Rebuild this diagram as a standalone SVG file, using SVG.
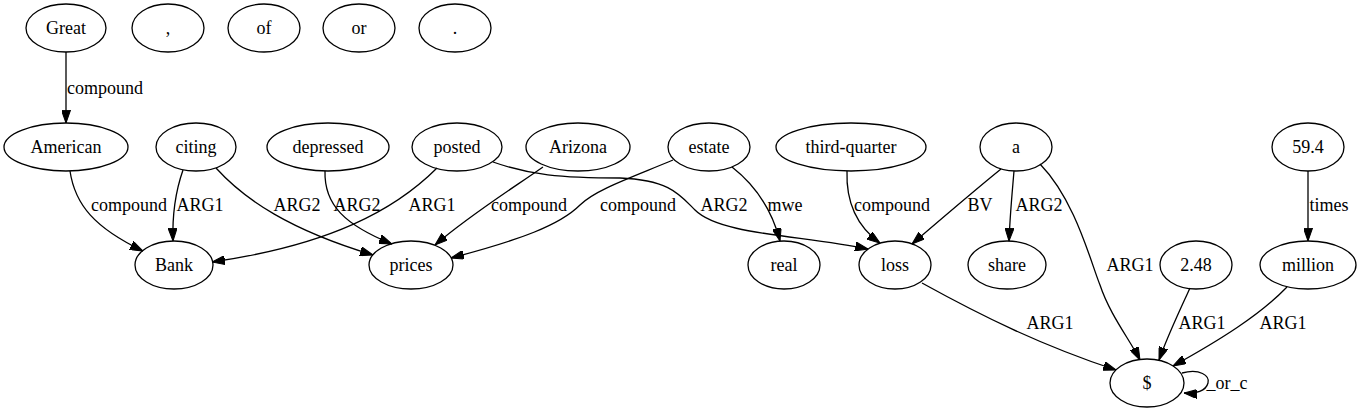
<svg xmlns="http://www.w3.org/2000/svg" width="1363" height="411" viewBox="0 0 1363 411">
<style>
  ellipse { fill: none; stroke: #000; stroke-width: 1.3; }
  text { font-family: "Liberation Serif", "Times New Roman", serif; font-size: 18px; fill: #000; text-anchor: middle; }
  .e path { fill: none; stroke: #000; stroke-width: 1.3; marker-end: url(#arr); }
</style>
<defs>
  <marker id="arr" viewBox="0 0 10 7" refX="10" refY="3.5" markerWidth="13" markerHeight="9" markerUnits="userSpaceOnUse" orient="auto">
    <path d="M0,0 L10,3.5 L0,7 z" fill="#000" stroke="#000" stroke-width="0.8"/>
  </marker>
</defs>
<rect width="1363" height="411" fill="#fff"/>

<g id="n_great"><ellipse cx="66" cy="28" rx="40" ry="24"/><text x="66" y="34">Great</text></g>
<g id="n_comma"><ellipse cx="168" cy="28" rx="36" ry="24"/><text x="168" y="34">,</text></g>
<g id="n_of"><ellipse cx="264" cy="28" rx="36" ry="24"/><text x="264" y="34">of</text></g>
<g id="n_or"><ellipse cx="359" cy="28" rx="36" ry="24"/><text x="359" y="34">or</text></g>
<g id="n_dot"><ellipse cx="455" cy="28" rx="36" ry="24"/><text x="455" y="34">.</text></g>

<g id="n_american"><ellipse cx="66" cy="147" rx="62" ry="24"/><text x="66" y="153">American</text></g>
<g id="n_citing"><ellipse cx="196" cy="147" rx="40" ry="24"/><text x="196" y="153">citing</text></g>
<g id="n_depressed"><ellipse cx="328" cy="147" rx="61" ry="24"/><text x="328" y="153">depressed</text></g>
<g id="n_posted"><ellipse cx="457" cy="147" rx="45" ry="24"/><text x="457" y="153">posted</text></g>
<g id="n_arizona"><ellipse cx="578" cy="147" rx="52" ry="24"/><text x="578" y="153">Arizona</text></g>
<g id="n_estate"><ellipse cx="709" cy="147" rx="41" ry="24"/><text x="709" y="153">estate</text></g>
<g id="n_thirdquarter"><ellipse cx="851" cy="147" rx="75" ry="24"/><text x="851" y="153">third-quarter</text></g>
<g id="n_a"><ellipse cx="1016" cy="147" rx="36" ry="24"/><text x="1016" y="153">a</text></g>
<g id="n_594"><ellipse cx="1308" cy="147" rx="36" ry="24"/><text x="1308" y="153">59.4</text></g>

<g id="n_bank"><ellipse cx="174" cy="265" rx="39" ry="24"/><text x="174" y="271">Bank</text></g>
<g id="n_prices"><ellipse cx="411" cy="265" rx="42" ry="24"/><text x="411" y="271">prices</text></g>
<g id="n_real"><ellipse cx="784" cy="265" rx="36" ry="24"/><text x="784" y="271">real</text></g>
<g id="n_loss"><ellipse cx="895" cy="265" rx="36" ry="24"/><text x="895" y="271">loss</text></g>
<g id="n_share"><ellipse cx="1007" cy="265" rx="39" ry="24"/><text x="1007" y="271">share</text></g>
<g id="n_248"><ellipse cx="1196" cy="265" rx="36" ry="24"/><text x="1196" y="271">2.48</text></g>
<g id="n_million"><ellipse cx="1308" cy="265" rx="48" ry="24"/><text x="1308" y="271">million</text></g>

<g id="n_dollar"><ellipse cx="1147" cy="383" rx="37" ry="24"/><text x="1147" y="389">$</text></g>

<g id="edges" class="e">
  <path d="M66,52 L66,123"/>
  <text x="105" y="94">compound</text>

  <path d="M70,171 C75,205 95,228 143,251"/>
  <text x="129" y="211">compound</text>

  <path d="M183,170 C176,190 172,210 173,241"/>
  <text x="200" y="211">ARG1</text>

  <path d="M216,168 C245,200 290,230 373,255"/>
  <text x="297" y="211">ARG2</text>

  <path d="M325,171 C324,205 345,225 392,244"/>
  <text x="357" y="211">ARG2</text>

  <path d="M437,168 C395,210 330,245 212,262"/>
  <text x="432" y="211">ARG1</text>

  <path d="M543,167 C510,190 470,215 435,245"/>
  <text x="529" y="211">compound</text>

  <path d="M673,160 C630,178 595,190 580,205 C560,225 520,240 451,258"/>
  <text x="638" y="211">compound</text>

  <path d="M493,162 C530,175 560,178 620,178 C670,180 680,195 695,210 C720,235 800,235 868,249"/>
  <text x="724" y="211">ARG2</text>

  <path d="M732,167 C755,185 772,210 780,241"/>
  <text x="785" y="211">mwe</text>

  <path d="M847,171 C846,200 855,225 880,243"/>
  <text x="892" y="211">compound</text>

  <path d="M1001,169 C975,190 940,220 912,244"/>
  <text x="980" y="211">BV</text>

  <path d="M1014,171 C1012,195 1010,215 1009,241"/>
  <text x="1039" y="211">ARG2</text>

  <path d="M1040,164 C1075,200 1090,260 1100,285 C1110,315 1130,340 1140,360"/>
  <text x="1130" y="271">ARG1</text>

  <path d="M922,283 C980,315 1040,345 1116,370"/>
  <text x="1050" y="329">ARG1</text>

  <path d="M1190,288 C1180,310 1168,335 1159,360"/>
  <text x="1202" y="329">ARG1</text>

  <path d="M1287,287 C1260,315 1220,340 1173,366"/>
  <text x="1283" y="329">ARG1</text>

  <path d="M1308,171 L1308,241"/>
  <text x="1329" y="211">times</text>

  <path d="M1182,373 C1200,368 1210,376 1208,383 C1206,391 1196,394 1184,393"/>
  <text x="1227" y="389">_or_c</text>
</g>
</svg>
